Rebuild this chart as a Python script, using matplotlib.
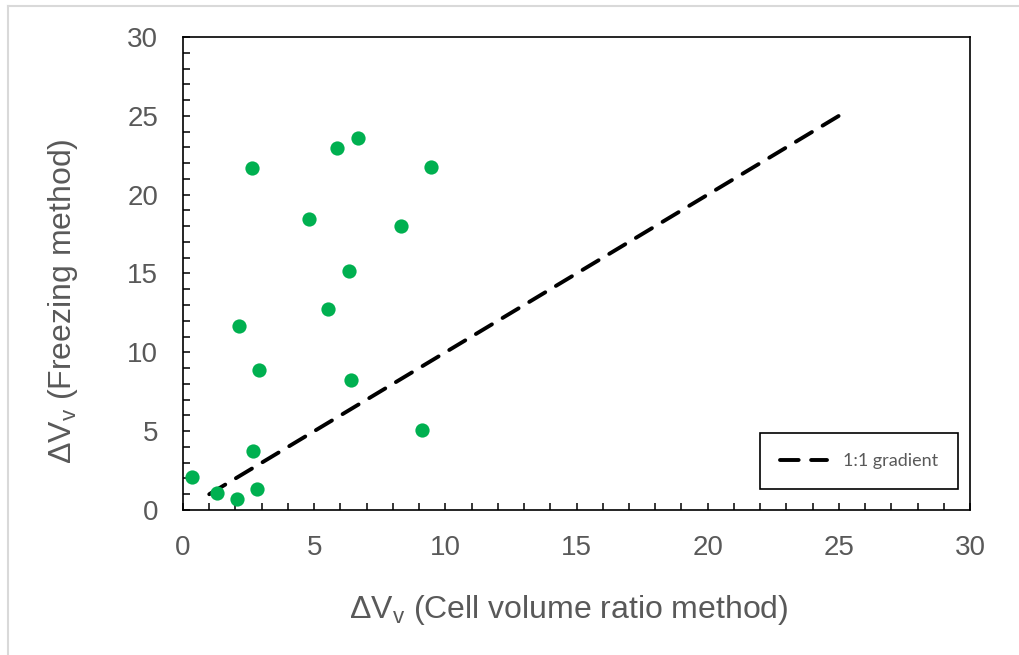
import matplotlib
matplotlib.use("Agg")
import matplotlib.pyplot as plt
from matplotlib.ticker import MultipleLocator
from matplotlib.lines import Line2D

# cell volume ratio method vs freezing method
dv_cell = [0.33, 1.28, 2.05, 2.81, 2.68, 9.10, 6.40, 2.90, 2.13, 5.52, 6.34,
           4.80, 8.30, 2.62, 5.87, 6.66, 9.45]
dv_freeze = [2.11, 1.06, 0.70, 1.31, 3.74, 5.07, 8.24, 8.88, 11.7, 12.73, 15.15,
             18.47, 18.0, 21.7, 22.95, 23.6, 21.77]
line_x = [1, 25]
line_y = [1, 25]

grey = '#595959'
plt.rcParams['font.family'] = ['Liberation Sans', 'DejaVu Sans']

fig = plt.figure(figsize=(10.19, 6.55), dpi=100)
ax = fig.add_axes([0.1796, 0.2214, 0.7724, 0.7221])

ax.scatter(dv_cell, dv_freeze, s=105, color='#00B050', zorder=3, linewidths=0)
ax.plot(line_x, line_y, color='black', lw=2.8, linestyle=(0, (4.8, 3.2)),
        dash_capstyle='round', label='1:1 gradient', zorder=2)

ax.set_xlim(0, 30)
ax.set_ylim(0, 30)
ax.xaxis.set_major_locator(MultipleLocator(5))
ax.yaxis.set_major_locator(MultipleLocator(5))
ax.xaxis.set_minor_locator(MultipleLocator(1))
ax.yaxis.set_minor_locator(MultipleLocator(1))
ax.tick_params(which='both', direction='in', length=5, width=1.1, color='black')
ax.tick_params(axis='x', which='major', pad=18, labelsize=20, labelcolor=grey)
ax.tick_params(axis='y', which='major', pad=18, labelsize=20, labelcolor=grey)
for s in ax.spines.values():
    s.set_linewidth(1.2)

ax.set_xlabel('ΔV$_\\mathregular{v}$ (Cell volume ratio method)', fontsize=23, color=grey,
              va='center')
ax.set_ylabel('ΔV$_\\mathregular{v}$ (Freezing method)', fontsize=23, color=grey,
              va='center')
ax.xaxis.set_label_coords(0.49, -0.211)
ax.yaxis.set_label_coords(-0.1525, 0.442)

leg = ax.legend(loc='lower right', bbox_to_anchor=(0.985, 0.044), fancybox=False,
                edgecolor='black', framealpha=1, handlelength=2.6, handletextpad=0.9,
                borderpad=1.1, borderaxespad=0, labelcolor=grey,
                prop={'family': 'Lato', 'size': 13})
leg.get_frame().set_linewidth(1.2)

# screenshot edge lines (left and top only)
fig.add_artist(Line2D([0.008, 0.008], [0, 0.991], transform=fig.transFigure,
                      color='#d9d9d9', lw=1.5))
fig.add_artist(Line2D([0.008, 1], [0.991, 0.991], transform=fig.transFigure,
                      color='#d9d9d9', lw=1.5))

fig.savefig('out.png', dpi=100)
